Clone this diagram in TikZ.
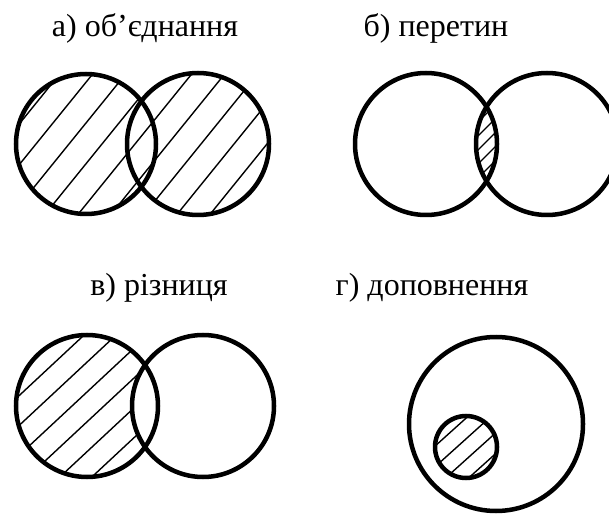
\documentclass[tikz,border=0pt]{standalone}
\usepackage{fontspec}
\setmainfont{Liberation Serif}
\begin{document}
\begin{tikzpicture}[x=1pt,y=1pt,
    every node/.style={font=\fontsize{32}{36}\selectfont},
    setline/.style={line width=4.5pt},
    hatch/.style={line width=1.4pt}]
    \useasboundingbox (0,0) rectangle (609,514);

    \begin{scope}
      \node (union) at (145,486) {а) об’єднання};
      \begin{scope}
        \clip (86,370) circle (70) (198,370) circle (71);
        \foreach \x in {-30,3,...,300}
          \draw[hatch] (\x,370) ++(231:200) -- ++(51:400);
      \end{scope}
      \draw[setline] (86,370) circle (70);
      \draw[setline] (198,370) circle (71);
    \end{scope}

    \begin{scope}
      \node (inter) at (436,486) {б) перетин};
      \begin{scope}
        \clip (426,370) circle (71);
        \clip (547,370) circle (71);
        \foreach \y in {316,330,...,414}
          \draw[hatch] (486,\y) ++(225:60) -- ++(45:120);
      \end{scope}
      \draw[setline] (426,370) circle (71);
      \draw[setline] (547,370) circle (71);
    \end{scope}

    \begin{scope}
      \node (diff) at (159,226) {в) різниця};
      \begin{scope}
        \clip (87,108) circle (71);
        \foreach \x in {-24,8,...,200}
          \draw[hatch] (\x,108) ++(223:200) -- ++(43:400);
      \end{scope}
      \fill[white] (203,108) circle (71);
      \draw[setline] (87,108) circle (71);
      \draw[setline] (203,108) circle (71);
    \end{scope}

    \begin{scope}
      \node (compl) at (432,226) {г) доповнення};
      \begin{scope}
        \clip (466,67) circle (31);
        \foreach \x in {411,434,...,503}
          \draw[hatch] (\x,67) ++(222:80) -- ++(42:160);
      \end{scope}
      \draw[setline] (496,90) circle (87);
      \draw[setline] (466,67) circle (31);
    \end{scope}
  \end{tikzpicture}
\end{document}
